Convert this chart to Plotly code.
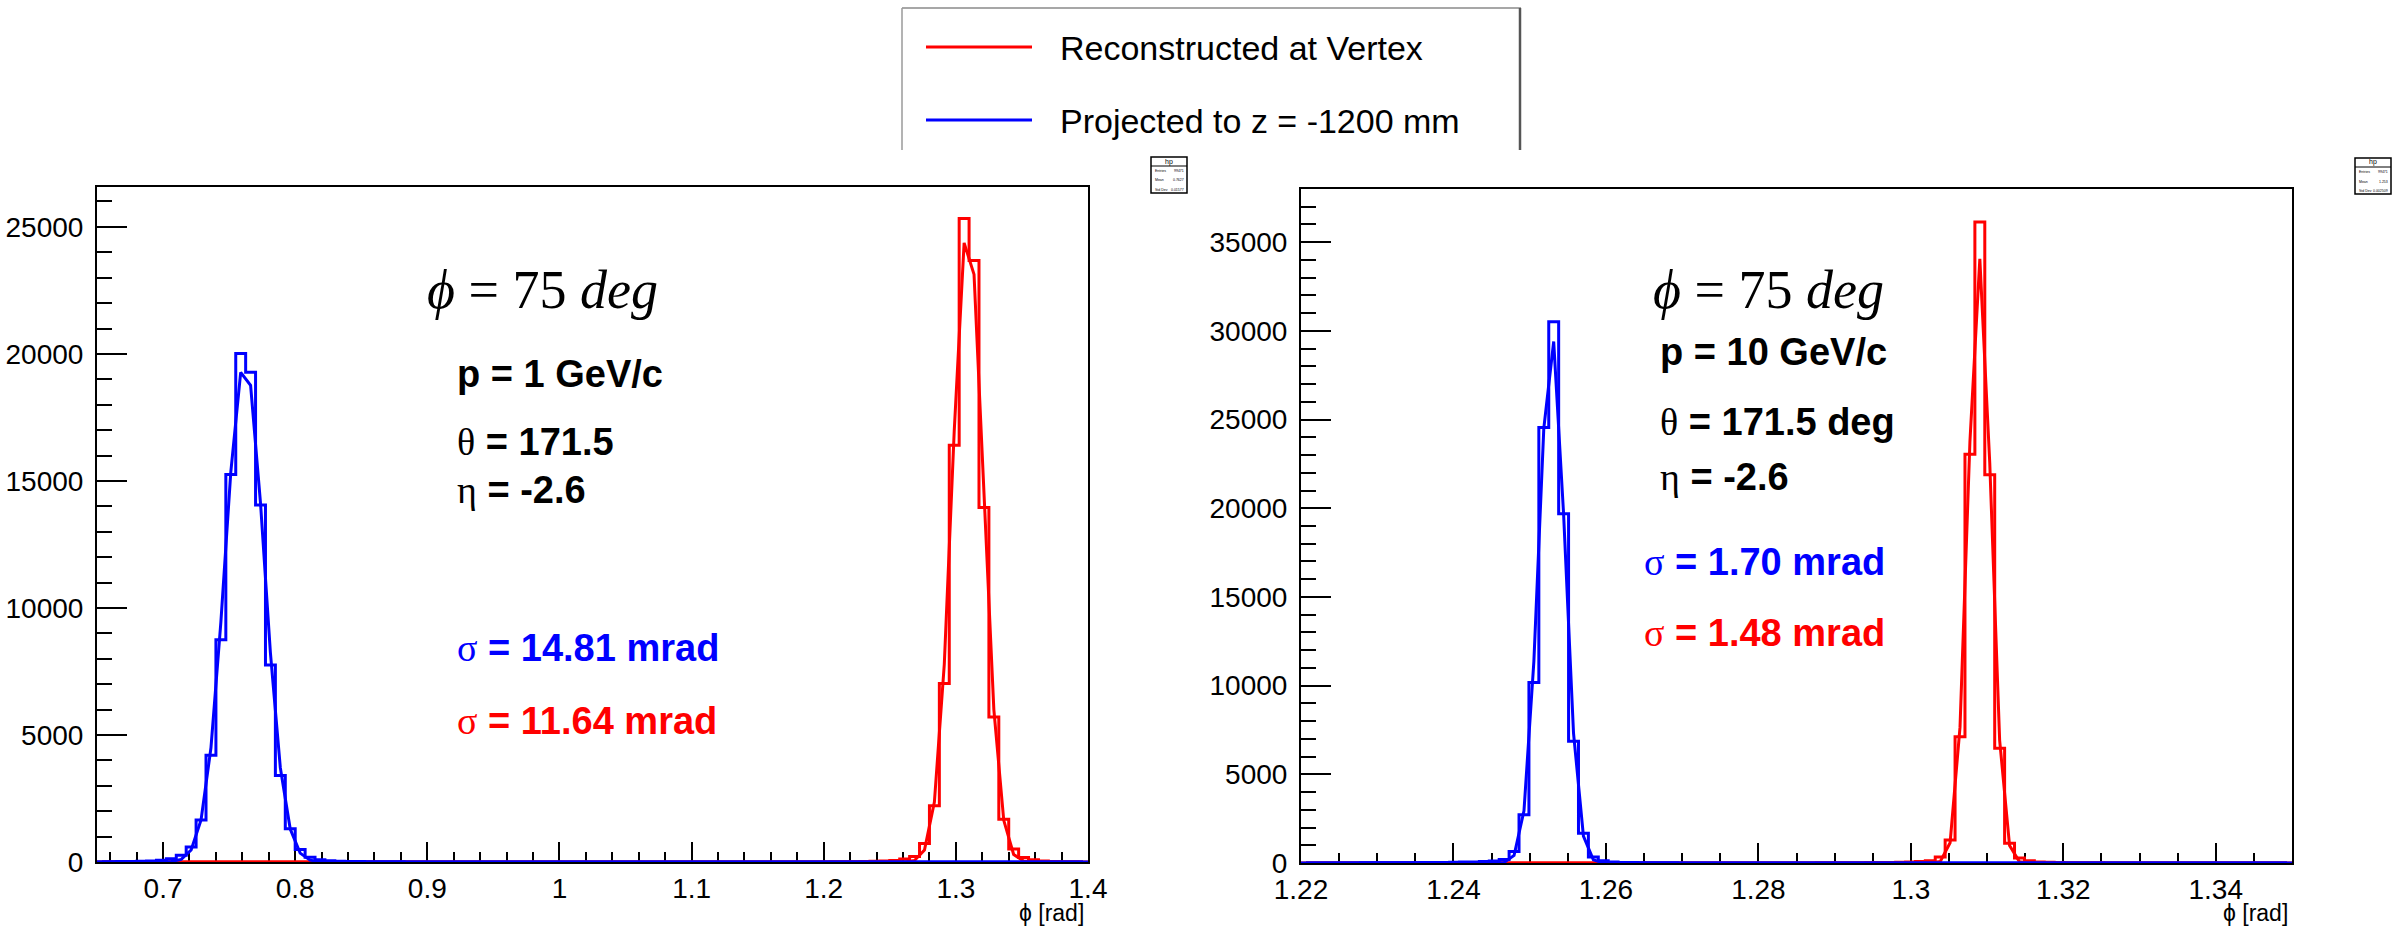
import numpy as np
import plotly.graph_objects as go

W, H = 2405, 926

# ---------------- data ----------------
LEFT_LO, LEFT_HI, LEFT_NBINS = 0.65, 1.40, 100
RIGHT_LO, RIGHT_HI, RIGHT_NBINS = 1.22, 1.35, 100

left_blue_hist = [
    10, 12, 15, 20, 28, 40, 70, 130, 270, 590,
    1650, 4200, 8750, 15250, 20020, 19280, 14050, 7750, 3400, 1310,
    490, 190, 90, 50, 30, 20, 15, 10, 8, 6,
    5, 4, 3, 3, 2, 2, 1, 1, 1, 1,
    1, 1, 1, 1, 1, 1, 0, 0, 0, 0,
    0, 0, 0, 0, 0, 0, 0, 0, 0, 0,
    0, 0, 0, 0, 0, 0, 0, 0, 0, 0,
    0, 0, 0, 0, 0, 0, 0, 0, 0, 0,
    0, 0, 0, 0, 0, 0, 0, 0, 0, 0,
    0, 0, 0, 0, 0, 0, 0, 0, 0, 0,
]
left_blue_fit = [
    0, 0, 0, 0, 0, 0, 2, 18, 104, 472,
    1656, 4495, 9440, 15340, 19275, 18760, 14130, 8230, 3710, 1295,
    350, 73, 12, 2, 0, 0, 0, 0, 0, 0,
    0, 0, 0, 0, 0, 0, 0, 0, 0, 0,
    0, 0, 0, 0, 0, 0, 0, 0, 0, 0,
    0, 0, 0, 0, 0, 0, 0, 0, 0, 0,
    0, 0, 0, 0, 0, 0, 0, 0, 0, 0,
    0, 0, 0, 0, 0, 0, 0, 0, 0, 0,
    0, 0, 0, 0, 0, 0, 0, 0, 0, 0,
    0, 0, 0, 0, 0, 0, 0, 0, 0, 0,
]
left_red_hist = [
    0, 0, 0, 0, 0, 0, 0, 0, 0, 0,
    0, 0, 0, 0, 0, 0, 0, 0, 0, 0,
    0, 0, 0, 0, 0, 0, 0, 0, 0, 0,
    0, 0, 0, 0, 0, 0, 0, 0, 0, 0,
    0, 0, 0, 0, 0, 0, 0, 0, 0, 0,
    0, 0, 0, 0, 0, 0, 0, 0, 0, 0,
    0, 0, 0, 0, 0, 0, 0, 0, 0, 0,
    2, 2, 3, 4, 5, 8, 10, 15, 25, 40,
    60, 120, 220, 725, 2210, 7030, 16400, 25330, 23680, 13950,
    5710, 1685, 507, 180, 90, 40, 20, 10, 5, 3,
]
left_red_fit = [
    0, 0, 0, 0, 0, 0, 0, 0, 0, 0,
    0, 0, 0, 0, 0, 0, 0, 0, 0, 0,
    0, 0, 0, 0, 0, 0, 0, 0, 0, 0,
    0, 0, 0, 0, 0, 0, 0, 0, 0, 0,
    0, 0, 0, 0, 0, 0, 0, 0, 0, 0,
    0, 0, 0, 0, 0, 0, 0, 0, 0, 0,
    0, 0, 0, 0, 0, 0, 0, 0, 0, 0,
    0, 0, 0, 0, 0, 0, 0, 0, 0, 0,
    0, 5, 62, 473, 2360, 7790, 16950, 24370, 23130, 14500,
    6000, 1640, 296, 35, 3, 0, 0, 0, 0, 0,
]

right_blue_hist = [
    0, 0, 2, 3, 5, 5, 8, 10, 12, 15,
    18, 20, 25, 30, 35, 40, 50, 60, 80, 110,
    200, 650, 2720, 10180, 24560, 30520, 19690, 6865, 1680, 340,
    130, 60, 35, 25, 18, 12, 10, 8, 6, 5,
    4, 3, 3, 2, 2, 2, 1, 1, 1, 1,
    0, 0, 0, 0, 0, 0, 0, 0, 0, 0,
    0, 0, 0, 0, 0, 0, 0, 0, 0, 0,
    0, 0, 0, 0, 0, 0, 0, 0, 0, 0,
    0, 0, 0, 0, 0, 0, 0, 0, 0, 0,
    0, 0, 0, 0, 0, 0, 0, 0, 0, 0,
]
right_blue_fit = [
    0, 0, 0, 0, 0, 0, 0, 0, 0, 0,
    0, 0, 0, 0, 0, 0, 0, 0, 0, 2,
    34, 425, 2945, 11380, 24500, 29400, 19660, 7325, 1520, 176,
    11, 0, 0, 0, 0, 0, 0, 0, 0, 0,
    0, 0, 0, 0, 0, 0, 0, 0, 0, 0,
    0, 0, 0, 0, 0, 0, 0, 0, 0, 0,
    0, 0, 0, 0, 0, 0, 0, 0, 0, 0,
    0, 0, 0, 0, 0, 0, 0, 0, 0, 0,
    0, 0, 0, 0, 0, 0, 0, 0, 0, 0,
    0, 0, 0, 0, 0, 0, 0, 0, 0, 0,
]
right_red_hist = [
    0, 0, 0, 0, 0, 0, 0, 0, 0, 0,
    0, 0, 0, 0, 0, 0, 0, 0, 0, 0,
    0, 0, 0, 0, 0, 0, 0, 0, 0, 0,
    0, 0, 0, 0, 0, 0, 0, 0, 0, 0,
    0, 0, 0, 0, 0, 0, 0, 0, 0, 0,
    5, 6, 8, 10, 12, 15, 18, 22, 28, 35,
    45, 60, 85, 130, 340, 1295, 7120, 23050, 36140, 21890,
    6475, 1115, 285, 130, 60, 40, 28, 20, 15, 10,
    8, 6, 5, 4, 3, 2, 2, 1, 1, 1,
    0, 0, 0, 0, 0, 0, 0, 0, 0, 0,
]
right_red_fit = [
    0, 0, 0, 0, 0, 0, 0, 0, 0, 0,
    0, 0, 0, 0, 0, 0, 0, 0, 0, 0,
    0, 0, 0, 0, 0, 0, 0, 0, 0, 0,
    0, 0, 0, 0, 0, 0, 0, 0, 0, 0,
    0, 0, 0, 0, 0, 0, 0, 0, 0, 0,
    0, 0, 0, 0, 0, 0, 0, 0, 0, 0,
    0, 0, 0, 2, 79, 1142, 7660, 23750, 34060, 22560,
    6915, 980, 64, 2, 0, 0, 0, 0, 0, 0,
    0, 0, 0, 0, 0, 0, 0, 0, 0, 0,
    0, 0, 0, 0, 0, 0, 0, 0, 0, 0,
]

left_x_ticks = [0.7, 0.8, 0.9, 1.0, 1.1, 1.2, 1.3, 1.4]
left_x_labels = ["0.7", "0.8", "0.9", "1", "1.1", "1.2", "1.3", "1.4"]
right_x_ticks = [1.22, 1.24, 1.26, 1.28, 1.30, 1.32, 1.34]
right_x_labels = ["1.22", "1.24", "1.26", "1.28", "1.3", "1.32", "1.34"]
left_y_ticks = [0, 5000, 10000, 15000, 20000, 25000]
right_y_ticks = [0, 5000, 10000, 15000, 20000, 25000, 30000, 35000]
LEFT_YMAX, RIGHT_YMAX = 26570, 38000

legend_labels = ["Reconstructed at Vertex", "Projected to z = -1200 mm"]
RED, BLUE = "#ff0000", "#0000ff"
SANS = "Liberation Sans, Arial, Helvetica, sans-serif"
SERIF = "Liberation Serif, DejaVu Serif, serif"

# ---------------- helpers ----------------
def px(x):
    return x / W

def py(y):
    return 1 - y / H

def step_xy(lo, hi, nb, vals):
    edges = np.linspace(lo, hi, nb + 1)
    return list(edges), list(vals) + [vals[-1]]

def centers(lo, hi, nb):
    edges = np.linspace(lo, hi, nb + 1)
    return list(0.5 * (edges[:-1] + edges[1:]))

fig = go.Figure()

def add_panel(xa, ya, lo, hi, nb, red_h, red_f, blue_h, blue_f):
    c = centers(lo, hi, nb)
    xs, ys = step_xy(lo, hi, nb, red_h)
    fig.add_trace(go.Scatter(x=xs, y=ys, mode="lines", line=dict(color=RED, width=3, shape="hv"),
                             xaxis=xa, yaxis=ya, showlegend=False, cliponaxis=False))
    fig.add_trace(go.Scatter(x=c, y=red_f, mode="lines", line=dict(color=RED, width=3),
                             xaxis=xa, yaxis=ya, showlegend=False, cliponaxis=False))
    xs, ys = step_xy(lo, hi, nb, blue_h)
    fig.add_trace(go.Scatter(x=xs, y=ys, mode="lines", line=dict(color=BLUE, width=3, shape="hv"),
                             xaxis=xa, yaxis=ya, showlegend=False, cliponaxis=False))
    fig.add_trace(go.Scatter(x=c, y=blue_f, mode="lines", line=dict(color=BLUE, width=3),
                             xaxis=xa, yaxis=ya, showlegend=False, cliponaxis=False))

add_panel("x", "y", LEFT_LO, LEFT_HI, LEFT_NBINS, left_red_hist, left_red_fit, left_blue_hist, left_blue_fit)
add_panel("x2", "y2", RIGHT_LO, RIGHT_HI, RIGHT_NBINS, right_red_hist, right_red_fit, right_blue_hist, right_blue_fit)

axis_common = dict(showline=True, linecolor="black", linewidth=2, mirror=True,
                   showgrid=False, zeroline=False, ticks="inside", tickcolor="black",
                   tickwidth=2, tickfont=dict(family=SANS, size=28, color="black"),
                   layer="below traces", automargin=False)

fig.update_layout(
    width=W, height=H, autosize=False,
    margin=dict(l=0, r=0, t=0, b=0, pad=0),
    paper_bgcolor="white", plot_bgcolor="white",
    xaxis=dict(axis_common, domain=[px(97), px(1088)], range=[LEFT_LO, LEFT_HI + 1e-9],
               anchor="y", tickvals=left_x_ticks, ticktext=left_x_labels, ticklen=20,
               minor=dict(dtick=0.02, tick0=0.0, ticks="inside", ticklen=10, tickwidth=2, tickcolor="black")),
    yaxis=dict(axis_common, domain=[py(862), py(187)], range=[0, LEFT_YMAX], anchor="x",
               tickvals=left_y_ticks, ticktext=[str(v) for v in left_y_ticks], ticklen=30,
               ticklabelstandoff=6,
               minor=dict(dtick=1000, tick0=0, ticks="inside", ticklen=15, tickwidth=2, tickcolor="black")),
    xaxis2=dict(axis_common, domain=[px(1301), px(2292)], range=[RIGHT_LO, RIGHT_HI], anchor="y2",
                tickvals=right_x_ticks, ticktext=right_x_labels, ticklen=20,
                minor=dict(dtick=0.005, tick0=1.22, ticks="inside", ticklen=10, tickwidth=2, tickcolor="black")),
    yaxis2=dict(axis_common, domain=[py(863), py(189)], range=[0, RIGHT_YMAX], anchor="x2",
                tickvals=right_y_ticks, ticktext=[str(v) for v in right_y_ticks], ticklen=30,
                ticklabelstandoff=6,
                minor=dict(dtick=1000, tick0=0, ticks="inside", ticklen=15, tickwidth=2, tickcolor="black")),
)

ann = []
def text(x, y, s, size, color="black", family=SANS, bold=False, xanchor="left"):
    ann.append(dict(x=px(x), y=py(y), xref="paper", yref="paper", text=s, showarrow=False,
                    xanchor=xanchor, yanchor="middle",
                    font=dict(family=family, size=size, color=color,
                              weight="bold" if bold else "normal")))

def greek(ch):
    return "<span style=\"font-family:'Liberation Serif';font-weight:normal\">" + ch + "</span>"

BOLD_SIZE = 38
# left panel texts
text(425, 290, "<i>ϕ</i> = 75 <i>deg</i>", 54, family=SERIF)
text(455, 374, "p = 1 GeV/c", BOLD_SIZE, bold=True)
text(455, 442, greek("θ") + " = 171.5", BOLD_SIZE, bold=True)
text(455, 490, greek("η") + " = -2.6", BOLD_SIZE, bold=True)
text(455, 648, greek("σ") + " = 14.81 mrad", BOLD_SIZE, color=BLUE, bold=True)
text(455, 721, greek("σ") + " = 11.64 mrad", BOLD_SIZE, color=RED, bold=True)
# right panel texts
text(1651, 290, "<i>ϕ</i> = 75 <i>deg</i>", 54, family=SERIF)
text(1658, 352, "p = 10 GeV/c", BOLD_SIZE, bold=True)
text(1658, 422, greek("θ") + " = 171.5 deg", BOLD_SIZE, bold=True)
text(1658, 477, greek("η") + " = -2.6", BOLD_SIZE, bold=True)
text(1642, 562, greek("σ") + " = 1.70 mrad", BOLD_SIZE, color=BLUE, bold=True)
text(1642, 633, greek("σ") + " = 1.48 mrad", BOLD_SIZE, color=RED, bold=True)
# axis titles
text(1086, 913, "ϕ [rad]", 23, xanchor="right")
text(2290, 913, "ϕ [rad]", 23, xanchor="right")
# legend texts
text(1058, 48, legend_labels[0], 34)
text(1058, 121, legend_labels[1], 34)

shapes = []
def line(x0, y0, x1, y1, color, width):
    shapes.append(dict(type="line", xref="paper", yref="paper", x0=px(x0), y0=py(y0),
                       x1=px(x1), y1=py(y1), line=dict(color=color, width=width)))

# legend box (bottom hidden by pads)
line(902, 8, 1521, 8, "#8a8a8a", 1.5)
line(902, 8, 902, 150, "#9a9a9a", 1.5)
line(1520, 8, 1520, 150, "#555555", 2.5)
line(926, 47, 1032, 47, RED, 3)
line(926, 120, 1032, 120, BLUE, 3)

# stat boxes
stat_rows = [("Entries", "99471"), ("Mean", "1.253"), ("Std Dev", "0.002509")]
left_stat_rows = [("Entries", "99471"), ("Mean", "0.7627"), ("Std Dev", "0.01577")]
for (bx0, by0, rows) in [(1151, 157, left_stat_rows), (2355, 158, stat_rows)]:
    bx1, by1 = bx0 + 36, by0 + 36
    shapes.append(dict(type="rect", xref="paper", yref="paper", x0=px(bx0), y0=py(by1),
                       x1=px(bx1), y1=py(by0), line=dict(color="black", width=1.5),
                       fillcolor="white"))
    line(bx0, by0 + 9, bx1, by0 + 9, "black", 1)
    text((bx0 + bx1) / 2, by0 + 4.5, "hp", 7, xanchor="center")
    for i, (k, v) in enumerate(rows):
        yy = by0 + 14 + i * 9.5
        text(bx0 + 1.5, yy, k, 3.5)
        text(bx1 - 1.5, yy, v, 3.5, xanchor="right")

fig.update_layout(annotations=ann, shapes=shapes)
fig.write_html("out.html")
